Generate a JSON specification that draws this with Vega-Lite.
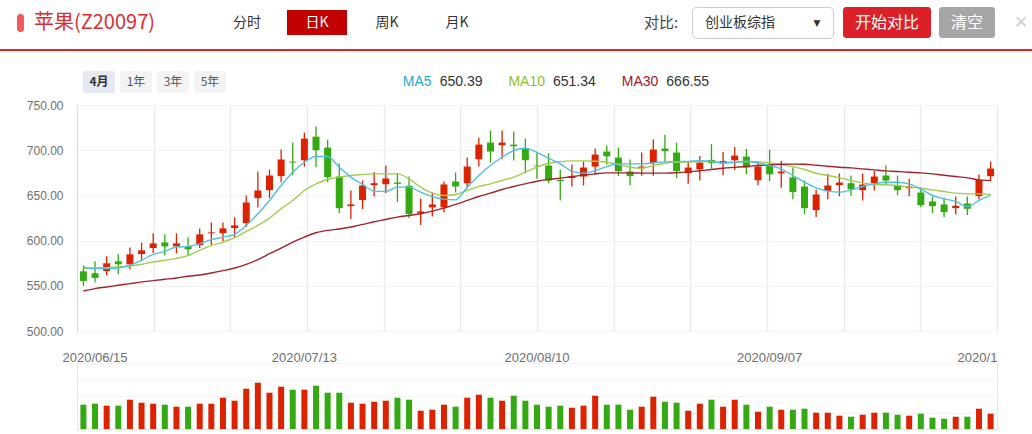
{
"$schema": "https://vega.github.io/schema/vega-lite/v6.json",
"padding": {"left": 0, "top": 6, "right": 0, "bottom": 0},
"background": "#ffffff",
"config": {"view": {"stroke": null}, "font": "Noto Sans CJK SC"},
"datasets": {
"lg": [{"n":"MA5","v":"650.39"},{"n":"MA10","v":"651.34"},{"n":"MA30","v":"666.55"}],
"k": [
{"d":"2020/06/12","o":566.0,"c":555.4,"h":572.3,"l":549.8,"v":29450,"m5":570.8,"m10":569.0,"m30":544.3},
{"d":"2020/06/15","o":563.8,"c":558.7,"h":577.1,"l":553.9,"v":30660,"m5":569.0,"m10":569.7,"m30":546.9},
{"d":"2020/06/16","o":566.4,"c":574.9,"h":582.6,"l":561.6,"v":28240,"m5":569.0,"m10":570.1,"m30":548.7},
{"d":"2020/06/17","o":577.1,"c":573.8,"h":584.8,"l":562.7,"v":28240,"m5":569.7,"m10":570.8,"m30":550.6},
{"d":"2020/06/18","o":573.8,"c":584.8,"h":592.5,"l":568.2,"v":35510,"m5":572.7,"m10":571.9,"m30":552.4},
{"d":"2020/06/19","o":585.2,"c":589.2,"h":597.7,"l":578.2,"v":31880,"m5":578.2,"m10":573.8,"m30":554.3},
{"d":"2020/06/22","o":591.8,"c":596.9,"h":608.0,"l":586.3,"v":30660,"m5":584.8,"m10":576.3,"m30":555.7},
{"d":"2020/06/23","o":598.0,"c":593.6,"h":606.9,"l":583.7,"v":29450,"m5":588.1,"m10":578.2,"m30":557.2},
{"d":"2020/06/24","o":593.6,"c":596.9,"h":608.0,"l":585.9,"v":27030,"m5":592.9,"m10":580.4,"m30":558.7},
{"d":"2020/06/29","o":594.0,"c":590.3,"h":603.6,"l":583.3,"v":27030,"m5":593.6,"m10":583.3,"m30":560.5},
{"d":"2020/06/30","o":595.1,"c":606.9,"h":613.5,"l":591.8,"v":30660,"m5":596.6,"m10":589.2,"m30":562.0},
{"d":"2020/07/01","o":608.0,"c":609.1,"h":620.1,"l":594.0,"v":30660,"m5":601.0,"m10":594.7,"m30":564.2},
{"d":"2020/07/02","o":608.3,"c":613.5,"h":620.1,"l":599.5,"v":37940,"m5":603.9,"m10":598.4,"m30":566.8},
{"d":"2020/07/03","o":613.9,"c":616.8,"h":625.6,"l":603.6,"v":34300,"m5":606.9,"m10":603.2,"m30":569.7},
{"d":"2020/07/06","o":619.4,"c":642.2,"h":649.9,"l":615.0,"v":48840,"m5":616.8,"m10":610.2,"m30":573.8},
{"d":"2020/07/07","o":647.0,"c":655.4,"h":676.4,"l":636.7,"v":56120,"m5":629.7,"m10":616.8,"m30":578.9},
{"d":"2020/07/08","o":655.8,"c":672.0,"h":678.6,"l":647.0,"v":44000,"m5":644.4,"m10":624.9,"m30":585.5},
{"d":"2020/07/09","o":671.3,"c":689.7,"h":700.7,"l":664.6,"v":51270,"m5":661.0,"m10":635.2,"m30":591.8},
{"d":"2020/07/10","o":687.4,"c":686.3,"h":708.4,"l":672.0,"v":47630,"m5":675.7,"m10":644.4,"m30":598.4},
{"d":"2020/07/13","o":688.9,"c":712.8,"h":719.5,"l":681.9,"v":47630,"m5":686.7,"m10":655.4,"m30":603.9},
{"d":"2020/07/14","o":715.0,"c":700.0,"h":726.1,"l":681.2,"v":52480,"m5":693.0,"m10":662.8,"m30":608.7},
{"d":"2020/07/15","o":702.9,"c":670.2,"h":711.7,"l":664.6,"v":44000,"m5":693.0,"m10":667.6,"m30":611.3},
{"d":"2020/07/16","o":670.9,"c":635.9,"h":685.2,"l":630.4,"v":44000,"m5":681.2,"m10":670.2,"m30":612.8},
{"d":"2020/07/17","o":638.1,"c":640.0,"h":655.4,"l":623.8,"v":31880,"m5":670.2,"m10":672.0,"m30":615.0},
{"d":"2020/07/20","o":644.8,"c":661.0,"h":666.5,"l":634.8,"v":30660,"m5":662.1,"m10":673.1,"m30":617.9},
{"d":"2020/07/21","o":661.3,"c":663.5,"h":676.0,"l":648.8,"v":33090,"m5":654.7,"m10":673.8,"m30":620.9},
{"d":"2020/07/22","o":662.4,"c":668.7,"h":683.0,"l":652.5,"v":34300,"m5":654.3,"m10":673.8,"m30":623.4},
{"d":"2020/07/23","o":664.3,"c":662.8,"h":674.9,"l":642.6,"v":37940,"m5":659.1,"m10":673.8,"m30":626.0},
{"d":"2020/07/24","o":660.6,"c":629.3,"h":670.9,"l":624.9,"v":35510,"m5":659.1,"m10":668.3,"m30":627.8},
{"d":"2020/07/27","o":630.4,"c":632.3,"h":646.6,"l":617.2,"v":22180,"m5":653.6,"m10":659.1,"m30":629.7},
{"d":"2020/07/28","o":636.7,"c":640.0,"h":653.2,"l":626.7,"v":23390,"m5":648.8,"m10":652.5,"m30":632.6},
{"d":"2020/07/29","o":636.7,"c":662.1,"h":665.4,"l":631.2,"v":29450,"m5":645.9,"m10":649.9,"m30":635.9},
{"d":"2020/07/30","o":665.4,"c":659.9,"h":675.3,"l":653.2,"v":27030,"m5":645.1,"m10":651.0,"m30":640.0},
{"d":"2020/07/31","o":663.5,"c":681.9,"h":691.9,"l":658.0,"v":37940,"m5":659.1,"m10":655.4,"m30":644.4},
{"d":"2020/08/03","o":690.0,"c":706.2,"h":713.9,"l":681.9,"v":41570,"m5":672.0,"m10":659.9,"m30":648.8},
{"d":"2020/08/04","o":708.4,"c":698.5,"h":721.7,"l":686.3,"v":37940,"m5":683.0,"m10":662.8,"m30":652.5},
{"d":"2020/08/05","o":705.5,"c":708.4,"h":721.7,"l":690.0,"v":34300,"m5":692.2,"m10":666.5,"m30":656.5},
{"d":"2020/08/06","o":706.2,"c":704.4,"h":720.6,"l":688.5,"v":40360,"m5":699.6,"m10":670.2,"m30":659.9},
{"d":"2020/08/07","o":701.8,"c":688.9,"h":712.8,"l":674.6,"v":34300,"m5":702.2,"m10":675.7,"m30":662.8},
{"d":"2020/08/10","o":683.0,"c":682.3,"h":697.4,"l":668.3,"v":29450,"m5":697.7,"m10":681.2,"m30":665.7},
{"d":"2020/08/11","o":683.0,"c":666.5,"h":696.3,"l":663.5,"v":27030,"m5":691.1,"m10":685.6,"m30":667.6},
{"d":"2020/08/12","o":667.2,"c":665.7,"h":678.6,"l":644.4,"v":28240,"m5":684.9,"m10":687.4,"m30":669.1},
{"d":"2020/08/13","o":669.1,"c":670.9,"h":684.1,"l":659.9,"v":25820,"m5":676.8,"m10":688.2,"m30":670.9},
{"d":"2020/08/14","o":670.9,"c":680.8,"h":687.4,"l":661.0,"v":28240,"m5":674.6,"m10":688.2,"m30":672.4},
{"d":"2020/08/17","o":681.9,"c":695.2,"h":701.8,"l":673.1,"v":40360,"m5":677.5,"m10":687.8,"m30":673.8},
{"d":"2020/08/18","o":698.5,"c":693.3,"h":705.1,"l":684.1,"v":29450,"m5":681.9,"m10":686.7,"m30":674.9},
{"d":"2020/08/19","o":691.9,"c":676.8,"h":702.9,"l":671.3,"v":29450,"m5":684.9,"m10":684.1,"m30":674.9},
{"d":"2020/08/20","o":676.4,"c":671.3,"h":689.7,"l":661.3,"v":23390,"m5":684.9,"m10":681.2,"m30":674.9},
{"d":"2020/08/21","o":680.1,"c":681.9,"h":697.4,"l":671.6,"v":27030,"m5":684.9,"m10":680.1,"m30":674.6},
{"d":"2020/08/24","o":686.0,"c":700.7,"h":711.7,"l":671.6,"v":39150,"m5":686.0,"m10":683.0,"m30":674.6},
{"d":"2020/08/25","o":701.8,"c":698.9,"h":717.2,"l":687.1,"v":33090,"m5":687.1,"m10":685.6,"m30":674.6},
{"d":"2020/08/26","o":697.4,"c":676.8,"h":708.4,"l":669.1,"v":31880,"m5":687.4,"m10":686.7,"m30":675.0},
{"d":"2020/08/27","o":674.5,"c":680.8,"h":687.0,"l":662.8,"v":22180,"m5":687.6,"m10":686.9,"m30":676.0},
{"d":"2020/08/28","o":678.9,"c":686.3,"h":693.7,"l":666.4,"v":30660,"m5":688.5,"m10":687.4,"m30":677.3},
{"d":"2020/08/31","o":689.3,"c":685.9,"h":706.9,"l":679.7,"v":35510,"m5":687.8,"m10":687.4,"m30":678.6},
{"d":"2020/09/01","o":685.2,"c":688.1,"h":698.1,"l":672.3,"v":27030,"m5":685.9,"m10":686.3,"m30":680.0},
{"d":"2020/09/02","o":688.9,"c":694.0,"h":703.6,"l":678.2,"v":35510,"m5":686.7,"m10":686.7,"m30":681.0},
{"d":"2020/09/03","o":692.9,"c":680.8,"h":701.4,"l":673.4,"v":29450,"m5":687.8,"m10":687.4,"m30":682.0},
{"d":"2020/09/04","o":666.8,"c":681.9,"h":686.3,"l":661.3,"v":20970,"m5":685.9,"m10":687.4,"m30":683.0},
{"d":"2020/09/07","o":683.7,"c":673.4,"h":700.7,"l":665.7,"v":27030,"m5":683.0,"m10":685.9,"m30":683.8},
{"d":"2020/09/08","o":674.5,"c":676.4,"h":688.1,"l":658.4,"v":23390,"m5":679.3,"m10":684.1,"m30":684.4},
{"d":"2020/09/09","o":669.8,"c":653.6,"h":680.8,"l":645.8,"v":23390,"m5":672.0,"m10":681.9,"m30":684.6},
{"d":"2020/09/10","o":659.8,"c":635.9,"h":666.4,"l":629.3,"v":24600,"m5":664.6,"m10":678.6,"m30":684.4},
{"d":"2020/09/11","o":633.7,"c":651.0,"h":656.5,"l":626.0,"v":19760,"m5":658.4,"m10":674.5,"m30":683.4},
{"d":"2020/09/14","o":655.0,"c":660.9,"h":673.8,"l":645.8,"v":19760,"m5":654.7,"m10":672.0,"m30":682.3},
{"d":"2020/09/15","o":661.3,"c":664.2,"h":674.2,"l":649.1,"v":16120,"m5":653.6,"m10":669.4,"m30":681.2},
{"d":"2020/09/16","o":663.5,"c":656.9,"h":671.9,"l":649.5,"v":14910,"m5":656.1,"m10":666.4,"m30":680.4},
{"d":"2020/09/17","o":655.8,"c":662.0,"h":674.2,"l":644.4,"v":17330,"m5":659.8,"m10":663.9,"m30":679.3},
{"d":"2020/09/18","o":663.5,"c":670.9,"h":677.1,"l":655.4,"v":19760,"m5":662.8,"m10":662.0,"m30":678.2},
{"d":"2020/09/21","o":672.0,"c":666.4,"h":683.4,"l":661.3,"v":19760,"m5":664.6,"m10":661.7,"m30":677.1},
{"d":"2020/09/22","o":660.9,"c":655.8,"h":672.0,"l":650.2,"v":17330,"m5":664.6,"m10":660.9,"m30":676.4},
{"d":"2020/09/23","o":658.0,"c":659.8,"h":668.3,"l":649.1,"v":16120,"m5":662.8,"m10":659.1,"m30":675.6},
{"d":"2020/09/24","o":653.2,"c":639.2,"h":658.7,"l":637.0,"v":18540,"m5":657.2,"m10":658.0,"m30":674.9},
{"d":"2020/09/25","o":643.3,"c":638.1,"h":648.8,"l":630.4,"v":13700,"m5":649.9,"m10":656.1,"m30":673.8},
{"d":"2020/09/28","o":640.0,"c":631.5,"h":647.7,"l":626.0,"v":12480,"m5":646.2,"m10":654.3,"m30":672.3},
{"d":"2020/09/29","o":635.9,"c":638.5,"h":648.8,"l":628.9,"v":14910,"m5":643.3,"m10":652.5,"m30":670.9},
{"d":"2020/09/30","o":641.1,"c":635.2,"h":648.8,"l":628.2,"v":14910,"m5":637.7,"m10":651.7,"m30":669.4},
{"d":"2020/10/09","o":649.2,"c":667.2,"h":673.1,"l":645.8,"v":24600,"m5":644.4,"m10":651.7,"m30":667.2},
{"d":"2020/10/12","o":671.2,"c":679.7,"h":687.4,"l":665.7,"v":18540,"m5":650.39,"m10":651.34,"m30":666.55}
]},
"columns": 1,
"align": "none",
"spacing": 0,
"bounds": "full",
"concat": [
{"hconcat": [
  {"width":17,"height":31,"data":{"values":[]},"mark":"point"},
  {"vconcat": [
    {"width":7,"height":7,"data":{"values":[]},"mark":"point"},
    {"width":7,"height":18,"data":{"values":[]},"mark":"point","view":{"fill":"#f25b5b","cornerRadius":3}}
  ], "spacing": 0},
  {"width":141,"height":31,"data":{"values":[{}]},"mark":{"type":"text","fontSize":20,"color":"#de2b31"},"encoding":{"text":{"value":"苹果(Z20097)"}}},
  {"width":52,"height":31,"data":{"values":[]},"mark":"point"},
  {"width":60,"height":31,"data":{"values":[{}]},"mark":{"type":"text","fontSize":14,"color":"#333333"},"encoding":{"text":{"value":"分时"}}},
  {"width":10,"height":31,"data":{"values":[]},"mark":"point"},
  {"vconcat": [
    {"width":60,"height":3,"data":{"values":[]},"mark":"point"},
    {"width":60,"height":25,"data":{"values":[{}]},"mark":{"type":"text","fontSize":14,"color":"#ffffff"},"encoding":{"text":{"value":"日K"}},"view":{"fill":"#c20000"}}
  ], "spacing": 0},
  {"width":10,"height":31,"data":{"values":[]},"mark":"point"},
  {"width":60,"height":31,"data":{"values":[{}]},"mark":{"type":"text","fontSize":14,"color":"#333333"},"encoding":{"text":{"value":"周K"}}},
  {"width":10,"height":31,"data":{"values":[]},"mark":"point"},
  {"width":60,"height":31,"data":{"values":[{}]},"mark":{"type":"text","fontSize":14,"color":"#333333"},"encoding":{"text":{"value":"月K"}}},
  {"width":144,"height":31,"data":{"values":[]},"mark":"point"},
  {"width":60,"height":31,"data":{"values":[{}]},"mark":{"type":"text","fontSize":15,"color":"#444444"},"encoding":{"text":{"value":"对比:"}}},
  {"width":141,"height":31,"data":{"values":[{}]},"view":{"fill":"#ffffff","stroke":"#cccccc","cornerRadius":4},
   "layer":[
     {"mark":{"type":"text","fontSize":14,"color":"#333333","align":"left","dx":-57.5},"encoding":{"text":{"value":"创业板综指"}}},
     {"mark":{"type":"text","fontSize":9,"color":"#333333","font":"DejaVu Sans","dx":54.5},"encoding":{"text":{"value":"▼"}}}
   ]},
  {"width":9,"height":31,"data":{"values":[]},"mark":"point"},
  {"width":88,"height":31,"data":{"values":[{}]},"mark":{"type":"text","fontSize":16,"color":"#ffffff"},"encoding":{"text":{"value":"开始对比"}},"view":{"fill":"#dc1f29","cornerRadius":3}},
  {"width":8,"height":31,"data":{"values":[]},"mark":"point"},
  {"width":56,"height":31,"data":{"values":[{}]},"mark":{"type":"text","fontSize":16,"color":"#ffffff"},"encoding":{"text":{"value":"清空"}},"view":{"fill":"#a6a6a6","cornerRadius":3}},
  {"width":39,"height":31,"data":{"values":[{}]},"mark":{"type":"text","fontSize":17,"color":"#cfcfcf","font":"DejaVu Sans","dx":6.5},"encoding":{"text":{"value":"✕"}}}
], "spacing": 0},
{"width":1,"height":10,"data":{"values":[]},"mark":"point"},
{"width":1032,"height":2,"data":{"values":[]},"mark":"point","view":{"fill":"#df2229"}},
{"width":1,"height":20,"data":{"values":[]},"mark":"point"},
{"hconcat": [
  {"width":83,"height":22,"data":{"values":[]},"mark":"point"},
  {"width":32,"height":22,"data":{"values":[{}]},"mark":{"type":"text","fontSize":12,"fontWeight":"bold","color":"#333333"},"encoding":{"text":{"value":"4月"}},"view":{"fill":"#e5e9f4","cornerRadius":2}},
  {"width":5,"height":22,"data":{"values":[]},"mark":"point"},
  {"width":32,"height":22,"data":{"values":[{}]},"mark":{"type":"text","fontSize":12,"color":"#555555"},"encoding":{"text":{"value":"1年"}},"view":{"fill":"#f4f4f4","cornerRadius":2}},
  {"width":5,"height":22,"data":{"values":[]},"mark":"point"},
  {"width":32,"height":22,"data":{"values":[{}]},"mark":{"type":"text","fontSize":12,"color":"#555555"},"encoding":{"text":{"value":"3年"}},"view":{"fill":"#f4f4f4","cornerRadius":2}},
  {"width":5,"height":22,"data":{"values":[]},"mark":"point"},
  {"width":32,"height":22,"data":{"values":[{}]},"mark":{"type":"text","fontSize":12,"color":"#555555"},"encoding":{"text":{"value":"5年"}},"view":{"fill":"#f4f4f4","cornerRadius":2}},
  {"width":153,"height":22,"data":{"values":[]},"mark":"point"},
  {"width":340,"height":22,"data":{"name":"lg"},
   "encoding":{"x":{"field":"n","type":"nominal","sort":null,"scale":{"padding":0.5},"axis":null}},
   "layer":[
     {"mark":{"type":"text","align":"right","dx":-4,"fontSize":14,"font":"Liberation Sans"},
      "encoding":{"text":{"field":"n"},"color":{"field":"n","type":"nominal","sort":null,"scale":{"domain":["MA5","MA10","MA30"],"range":["#2aa8cb","#8dbf2b","#a3151b"]},"legend":null}}},
     {"mark":{"type":"text","align":"left","dx":4,"fontSize":14,"color":"#333333","font":"Liberation Sans"},
      "encoding":{"text":{"field":"v"}}}
   ]}
], "spacing": 0},
{"width":1,"height":6,"data":{"values":[]},"mark":"point"},
{"hconcat": [
  {"width":26,"height":1,"data":{"values":[]},"mark":"point"},
  {"vconcat": [
    {"width":920,"height":226,"data":{"name":"k"},
     "layer":[
       {"data":{"values":[{}]},"mark":{"type":"rule","opacity":0},
        "encoding":{"x":{"datum":0,"type":"quantitative","scale":{"domain":[0,12],"nice":false,"zero":false},
          "axis":{"orient":"bottom","values":[0,1,2,3,4,5,6,7,8,9,10,11,12],"grid":true,"gridColor":"#e7ecf3","gridWidth":1.5,"labels":false,"ticks":false,"domain":false,"title":null}}}},
       {"encoding":{"x":{"field":"d","type":"ordinal","scale":{"paddingInner":0,"paddingOuter":0.05},"axis":null}},
        "layer":[
          {"mark":{"type":"rule","strokeWidth":1.3},
           "encoding":{"y":{"field":"l","type":"quantitative","title":null,"scale":{"domain":[500,750],"nice":false,"zero":false},
              "axis":{"values":[500,550,600,650,700,750],"format":".2f","labelColor":"#707070","labelFontSize":12,"labelFont":"Liberation Sans","labelPadding":14,"ticks":false,"domain":true,"domainColor":"#d3dce7","grid":true,"gridColor":"#f2f2f2","title":null}},
             "y2":{"field":"h"},
             "color":{"condition":{"test":"datum.c >= datum.o","value":"#dd2200"},"value":"#33aa11"}}},
          {"mark":{"type":"bar","size":7},
           "encoding":{"y":{"field":"o","type":"quantitative","title":null},"y2":{"field":"c"},
             "color":{"condition":{"test":"datum.c >= datum.o","value":"#dd2200"},"value":"#33aa11"}}},
          {"mark":{"type":"line","interpolate":"monotone","strokeWidth":1.4,"color":"#a3cd4c"},
           "encoding":{"y":{"field":"m10","type":"quantitative","title":null}}},
          {"mark":{"type":"line","interpolate":"monotone","strokeWidth":1.4,"color":"#a4222b"},
           "encoding":{"y":{"field":"m30","type":"quantitative","title":null}}},
          {"mark":{"type":"line","interpolate":"monotone","strokeWidth":1.4,"color":"#4fc0e1"},
           "encoding":{"y":{"field":"m5","type":"quantitative","title":null}}}
        ]}
     ],
     "resolve":{"scale":{"x":"independent"}}},
    {"width":920,"height":66,"data":{"name":"k"},
     "mark":{"type":"bar","size":6},
     "encoding":{
       "x":{"field":"d","type":"ordinal","scale":{"paddingInner":0,"paddingOuter":0.05},
         "axis":{"orient":"top","values":["2020/06/15","2020/07/13","2020/08/10","2020/09/07","2020/10/12"],
           "labelExpr":"datum.value === '2020/10/12' ? '2020/1' : datum.label",
           "labelAlign":{"condition":{"test":"datum.value === '2020/10/12'","value":"left"},"value":"center"},
           "labelOffset":{"condition":{"test":"datum.value === '2020/10/12'","value":-33},"value":0},
           "labelAngle":0,"labelColor":"#6e6e6e","labelFontSize":13,"labelFont":"Liberation Sans","labelPadding":2,"labelBaseline":"alphabetic",
           "ticks":false,"domain":false,"grid":false,"title":null}},
       "y":{"field":"v","type":"quantitative","scale":{"domain":[0,80000],"nice":false},
         "axis":{"values":[20000,40000,60000,80000],"labels":false,"ticks":false,"domain":false,"grid":true,"gridColor":"#f2f2f2","title":null}},
       "color":{"condition":{"test":"datum.c >= datum.o","value":"#dd2200"},"value":"#33aa11"}},
     "view":{"stroke":"#dfe6ef"}}
  ], "spacing": 13}
], "spacing": 0}
]
}
